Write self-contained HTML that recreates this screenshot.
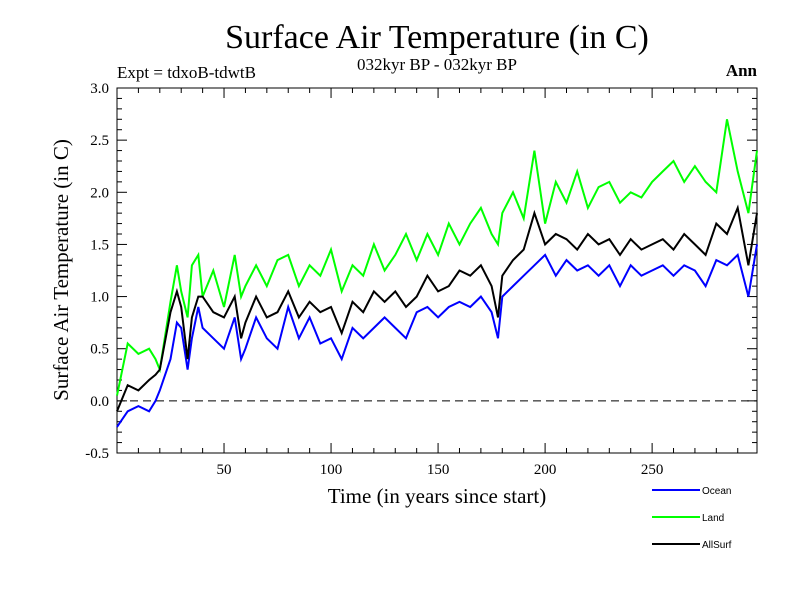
<!DOCTYPE html>
<html><head><meta charset="utf-8"><style>
body{margin:0;background:#fff;}
svg{display:block;font-family:"Liberation Serif",serif;}
</style></head><body>
<svg id="chart" width="800" height="600">
<rect width="800" height="600" fill="#fff"/>
<text x="437" y="48" font-size="34" text-anchor="middle">Surface Air Temperature (in C)</text>
<text x="437" y="70" font-size="17" text-anchor="middle">032kyr BP - 032kyr BP</text>
<text x="117" y="78" font-size="17">Expt = tdxoB-tdwtB</text>
<text x="757" y="76" font-size="17" font-weight="bold" text-anchor="end">Ann</text>
<text transform="translate(68,270) rotate(-90)" font-size="21" text-anchor="middle">Surface Air Temperature (in C)</text>
<text x="437" y="503" font-size="21" text-anchor="middle">Time (in years since start)</text>
<g id="axes"></g>
<g id="series"></g>
<g id="legend"></g>
</svg>
<script>
const years=[0,5,10,15,18,20,25,28,30,33,35,38,40,45,50,55,58,60,65,70,75,80,85,90,95,100,105,110,115,120,125,130,135,140,145,150,155,160,165,170,175,178,180,185,190,195,200,205,210,215,220,225,230,235,240,245,250,255,260,265,270,275,280,285,290,295,299];
const ocean=[-0.25,-0.1,-0.05,-0.1,0.0,0.1,0.4,0.75,0.7,0.3,0.6,0.9,0.7,0.6,0.5,0.8,0.4,0.5,0.8,0.6,0.5,0.9,0.6,0.8,0.55,0.6,0.4,0.7,0.6,0.7,0.8,0.7,0.6,0.85,0.9,0.8,0.9,0.95,0.9,1.0,0.85,0.6,1.0,1.1,1.2,1.3,1.4,1.2,1.35,1.25,1.3,1.2,1.3,1.1,1.3,1.2,1.25,1.3,1.2,1.3,1.25,1.1,1.35,1.3,1.4,1.0,1.5];
const land=[0.05,0.55,0.45,0.5,0.4,0.3,0.95,1.3,1.05,0.8,1.3,1.4,1.0,1.25,0.9,1.4,1.0,1.1,1.3,1.1,1.35,1.4,1.1,1.3,1.2,1.45,1.05,1.3,1.2,1.5,1.25,1.4,1.6,1.35,1.6,1.4,1.7,1.5,1.7,1.85,1.6,1.5,1.8,2.0,1.75,2.4,1.7,2.1,1.9,2.2,1.85,2.05,2.1,1.9,2.0,1.95,2.1,2.2,2.3,2.1,2.25,2.1,2.0,2.7,2.2,1.8,2.4];
const allsurf=[-0.1,0.15,0.1,0.2,0.25,0.3,0.85,1.05,0.9,0.4,0.8,1.0,1.0,0.85,0.8,1.0,0.6,0.75,1.0,0.8,0.85,1.05,0.8,0.95,0.85,0.9,0.65,0.95,0.85,1.05,0.95,1.05,0.9,1.0,1.2,1.05,1.1,1.25,1.2,1.3,1.1,0.8,1.2,1.35,1.45,1.8,1.5,1.6,1.55,1.45,1.6,1.5,1.55,1.4,1.55,1.45,1.5,1.55,1.45,1.6,1.5,1.4,1.7,1.6,1.85,1.3,1.8];
const yTicks=[-0.5,0.0,0.5,1.0,1.5,2.0,2.5,3.0];
const yTickLabels=["-0.5","0.0","0.5","1.0","1.5","2.0","2.5","3.0"];
const xTicks=[50,100,150,200,250];
const seriesNames=["Ocean","Land","AllSurf"];
const seriesColors=["#0000ff","#00ff00","#000000"];

const NS="http://www.w3.org/2000/svg";
const X0=117,X1=757,Y0=88,Y1=453;
const sx=v=>X0+(v-0)*(X1-X0)/299;
const sy=v=>Y1-(v+0.5)*(Y1-Y0)/3.5;
function mk(t,a,p){const e=document.createElementNS(NS,t);for(const k in a)e.setAttribute(k,a[k]);p.appendChild(e);return e;}
const ax=document.getElementById('axes');
let r=mk('rect',{x:X0,y:Y0,width:X1-X0,height:Y1-Y0,fill:'none',stroke:'#000','stroke-width':1},ax);


// minor y ticks
for(let i=0;i<=35;i++){const v=-0.5+i*0.1;const y=sy(v);const L=(i%5==0)?10:5;
 mk('line',{x1:X0,x2:X0+L,y1:y,y2:y,stroke:'#000'},ax);mk('line',{x1:X1,x2:X1-L,y1:y,y2:y,stroke:'#000'},ax);}
for(let v=10;v<300;v+=10){const x=sx(v);const L=(v%50==0)?10:5;
 mk('line',{x1:x,x2:x,y1:Y1,y2:Y1-L,stroke:'#000'},ax);mk('line',{x1:x,x2:x,y1:Y0,y2:Y0+L,stroke:'#000'},ax);}
yTicks.forEach((v,i)=>{const t=mk('text',{x:X0-8,y:sy(v)+5,'font-size':15,'text-anchor':'end'},ax);t.textContent=yTickLabels[i];
 
 });
xTicks.forEach(v=>{const t=mk('text',{x:sx(v),y:Y1+21,'font-size':15,'text-anchor':'middle'},ax);t.textContent=String(v);
 
 });
const zl=mk('line',{x1:X0,x2:X1,y1:sy(0),y2:sy(0),stroke:'#000','stroke-dasharray':'8,5'},ax);


const sg=document.getElementById('series');
[ocean,land,allsurf].forEach((d,k)=>{
 const pts=years.map((yr,i)=>sx(yr).toFixed(1)+','+sy(d[i]).toFixed(1)).join(' ');
 const p=mk('polyline',{points:pts,fill:'none',stroke:seriesColors[k],'stroke-width':2},sg);
 
 
});
const lg=document.getElementById('legend');
seriesNames.forEach((n,k)=>{const y=490+k*27;
 const l=mk('line',{x1:652,x2:700,y1:y,y2:y,stroke:seriesColors[k],'stroke-width':2},lg);
 
 
 const t=mk('text',{x:702,y:y+4,'font-size':10,'font-family':'Liberation Sans, sans-serif'},lg);t.textContent=n;
 
 
});
</script>
</body></html>
